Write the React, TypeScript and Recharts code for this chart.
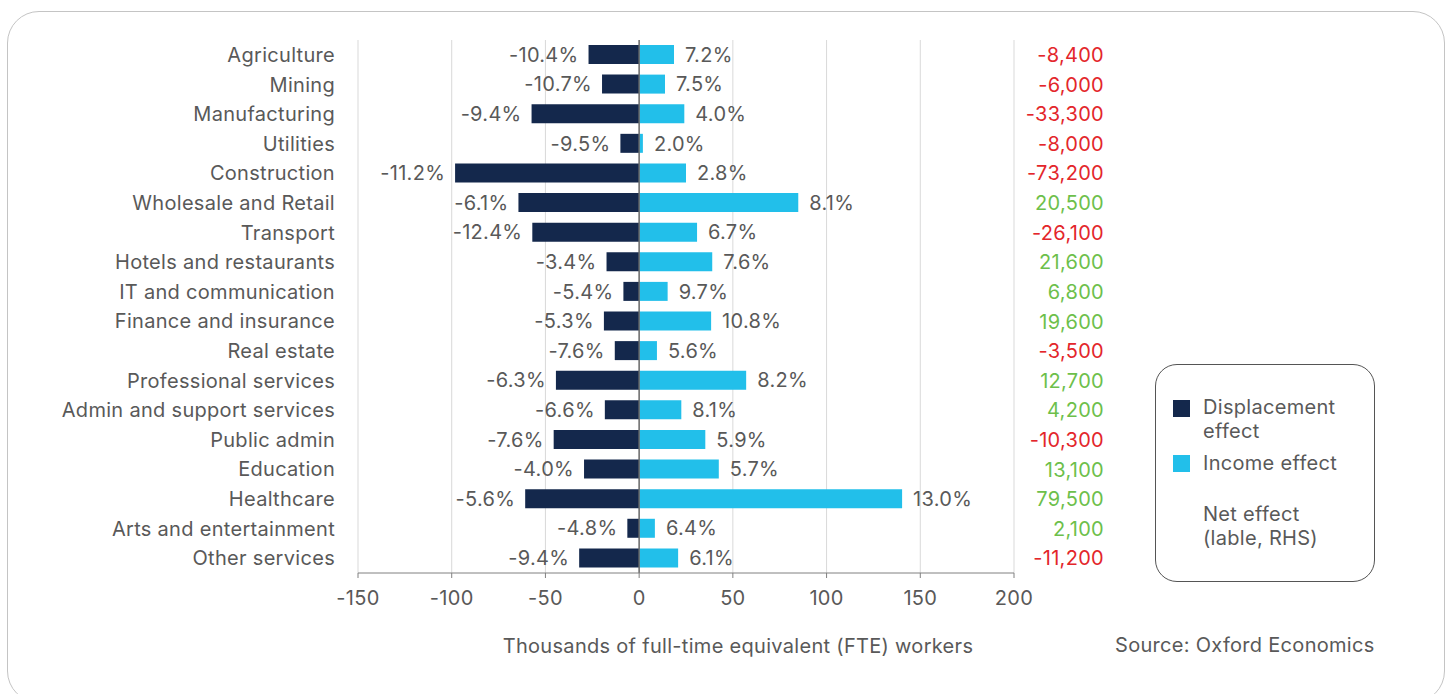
import React from "react";
import {
  BarChart,
  Bar,
  XAxis,
  YAxis,
  CartesianGrid,
  ReferenceLine,
  LabelList,
} from "recharts";

const sectors = [
  "Agriculture",
  "Mining",
  "Manufacturing",
  "Utilities",
  "Construction",
  "Wholesale and Retail",
  "Transport",
  "Hotels and restaurants",
  "IT and communication",
  "Finance and insurance",
  "Real estate",
  "Professional services",
  "Admin and support services",
  "Public admin",
  "Education",
  "Healthcare",
  "Arts and entertainment",
  "Other services",
];

// thousands of FTE workers
const displacement = [
  -27.0, -19.8, -57.4, -10.0, -98.2, -64.4, -57.0, -17.4, -8.4, -18.8, -13.0,
  -44.4, -18.3, -45.6, -29.4, -60.8, -6.3, -32.0,
];
const income = [
  18.6, 13.8, 24.1, 2.0, 25.0, 84.9, 30.9, 39.0, 15.2, 38.4, 9.5, 57.1, 22.5,
  35.3, 42.5, 140.3, 8.4, 20.8,
];

// % labels
const displacementPct = [
  -10.4, -10.7, -9.4, -9.5, -11.2, -6.1, -12.4, -3.4, -5.4, -5.3, -7.6, -6.3,
  -6.6, -7.6, -4.0, -5.6, -4.8, -9.4,
];
const incomePct = [
  7.2, 7.5, 4.0, 2.0, 2.8, 8.1, 6.7, 7.6, 9.7, 10.8, 5.6, 8.2, 8.1, 5.9, 5.7,
  13.0, 6.4, 6.1,
];

// net effect (RHS label)
const netEffect = [
  -8400, -6000, -33300, -8000, -73200, 20500, -26100, 21600, 6800, 19600,
  -3500, 12700, 4200, -10300, 13100, 79500, 2100, -11200,
];

const xTicks = [-150, -100, -50, 0, 50, 100, 150, 200];

const FONT = "Inter, 'Noto Sans', sans-serif";
const FS = 20;
const TEXT = "#595959";
const NAVY = "#14284c";
const CYAN = "#22bfea";
const RED = "#e3262b";
const GREEN = "#6dbf4b";

const data = sectors.map((name, i) => ({
  name,
  displacement: displacement[i],
  income: income[i],
  dispPct: displacementPct[i],
  incPct: incomePct[i],
  net: netEffect[i],
}));

const fmtPct = (v: number) => v.toFixed(1) + "%";

const DispLabel = (props: any) => {
  const vb = props.viewBox ?? props;
  const left = Math.min(vb.x, vb.x + vb.width);
  return (
    <text
      x={left - 10}
      y={vb.y + vb.height / 2}
      dy="0.36em"
      textAnchor="end"
      fontSize={FS}
      fill={TEXT}
      fontFamily={FONT}
    >
      {fmtPct(props.value)}
    </text>
  );
};

const IncLabel = (props: any) => {
  const vb = props.viewBox ?? props;
  const right = Math.max(vb.x, vb.x + vb.width);
  return (
    <text
      x={right + 11}
      y={vb.y + vb.height / 2}
      dy="0.36em"
      textAnchor="start"
      fontSize={FS}
      fill={TEXT}
      fontFamily={FONT}
    >
      {fmtPct(props.value)}
    </text>
  );
};

const NetTick = (props: any) => {
  const { x, y, index } = props;
  const v = netEffect[index];
  return (
    <text
      x={x}
      y={y}
      dy="0.36em"
      textAnchor="end"
      fontSize={FS}
      fill={v < 0 ? RED : GREEN}
      fontFamily={FONT}
    >
      {v.toLocaleString("en-US")}
    </text>
  );
};

const AxisTitle = (props: any) => {
  const vb = props.viewBox;
  return (
    <text
      x={vb.x + vb.width / 2 + 52}
      y={vb.y + vb.height + 40}
      textAnchor="middle"
      fontSize={FS}
      fill={TEXT}
      fontFamily={FONT}
    >
      Thousands of full-time equivalent (FTE) workers
    </text>
  );
};

export default function App() {
  return (
    <div
      style={{
        position: "fixed",
        left: 0,
        top: 0,
        width: 1452,
        height: 694,
        background: "#fff",
        fontFamily: FONT,
        letterSpacing: "0.3px",
        overflow: "hidden",
      }}
    >
      <div
        style={{
          position: "absolute",
          left: 7,
          top: 11,
          width: 1436,
          height: 690,
          border: "1.5px solid #c4c4c4",
          borderRadius: 32,
        }}
      />
      <div style={{ position: "absolute", left: 0, top: 0 }}>
        <BarChart
          width={1452}
          height={694}
          data={data}
          layout="vertical"
          stackOffset="sign"
          barSize={19}
          margin={{ top: 40, right: 0, bottom: 81, left: 0 }}
        >
          <CartesianGrid horizontal={false} stroke="#d9d9d9" />
          <XAxis
            type="number"
            domain={[-150, 200]}
            ticks={xTicks}
            height={40}
            stroke="#808080"
            tickSize={5}
            tickMargin={13}
            tick={{ fontSize: FS, fill: TEXT, fontFamily: FONT }}
            label={<AxisTitle />}
          />
          <YAxis
            type="category"
            dataKey="name"
            width={358}
            axisLine={false}
            tickLine={false}
            tickMargin={17}
            interval={0}
            tick={{ fontSize: FS, fill: TEXT, fontFamily: FONT }}
          />
          <YAxis
            yAxisId="net"
            type="category"
            dataKey="name"
            orientation="right"
            width={438}
            axisLine={false}
            tickLine={false}
            tickSize={0}
            tickMargin={90}
            interval={0}
            tick={<NetTick />}
          />
          <Bar
            dataKey="displacement"
            stackId="a"
            fill={NAVY}
            isAnimationActive={false}
          >
            <LabelList dataKey="dispPct" content={<DispLabel />} />
          </Bar>
          <Bar
            dataKey="income"
            stackId="a"
            fill={CYAN}
            isAnimationActive={false}
          >
            <LabelList dataKey="incPct" content={<IncLabel />} />
          </Bar>
          <ReferenceLine x={0} stroke="#6b6b6b" strokeWidth={1.5} />
        </BarChart>
      </div>
      <div
        style={{
          position: "absolute",
          left: 1155,
          top: 364,
          width: 218,
          height: 216,
          border: "1.5px solid #555",
          borderRadius: 22,
          color: TEXT,
          fontSize: FS,
          lineHeight: "24px",
        }}
      >
        <div style={{ position: "absolute", left: 17, top: 35, width: 17, height: 17, background: NAVY }} />
        <div style={{ position: "absolute", left: 47, top: 30 }}>
          Displacement
          <br />
          effect
        </div>
        <div style={{ position: "absolute", left: 17, top: 90, width: 17, height: 17, background: CYAN }} />
        <div style={{ position: "absolute", left: 47, top: 86 }}>Income effect</div>
        <div style={{ position: "absolute", left: 47, top: 137 }}>
          Net effect
          <br />
          (lable, RHS)
        </div>
      </div>
      <div
        style={{
          position: "absolute",
          left: 1115,
          top: 633,
          color: TEXT,
          fontSize: FS,
          whiteSpace: "nowrap",
        }}
      >
        Source: Oxford Economics
      </div>
    </div>
  );
}
